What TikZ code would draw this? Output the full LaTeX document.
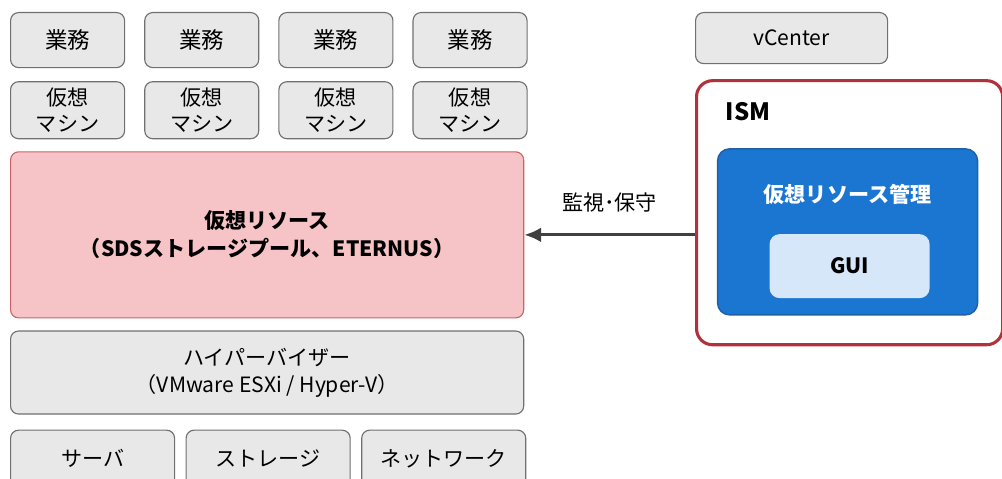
\documentclass[tikz,border=0pt]{standalone}
\usepackage{fontspec}
\setmainfont{Noto Sans CJK JP}
\usetikzlibrary{arrows.meta,positioning,calc}
\definecolor{boxgray}{HTML}{E8E8E8}
\definecolor{boxedge}{HTML}{707070}
\definecolor{respink}{HTML}{F6C4C6}
\definecolor{resedge}{HTML}{C8656B}
\definecolor{ismred}{HTML}{B0323C}
\definecolor{mgrblue}{HTML}{1B76D2}
\definecolor{mgredge}{HTML}{1F5FA6}
\definecolor{guiblue}{HTML}{D5E7F9}
\definecolor{arrowgray}{HTML}{404040}

\begin{document}
\begin{tikzpicture}[x=0.025cm, y=-0.025cm, >={Latex[length=0.42cm,width=0.37cm]}, node distance=0.475cm]
\tikzstyle{gray box}=[draw=boxedge, fill=boxgray, line width=0.8pt, rounded corners=0.2cm, align=center, inner sep=0pt, font=\fontsize{15}{19}\selectfont]
\tikzstyle{job}=[gray box, minimum width=2.85cm, minimum height=1.375cm, font=\fontsize{16}{19}\selectfont]
\tikzstyle{vm}=[gray box, minimum width=2.85cm, minimum height=1.425cm]
\tikzstyle{hw}=[gray box, minimum width=4.1cm, minimum height=1.425cm]
\useasboundingbox (0,0) rectangle (1002,479);

% guest layer
\node[job, anchor=north west] (job1) at (10,12) {業務};
\node[job]    (job2)[right=of job1]   {業務};
\node[job]    (job3)[right=of job2]   {業務};
\node[job]    (job4)[right=of job3]   {業務};
\node[vm]     (vm1)[below=0.325cm of job1]   {仮想\\マシン};
\node[vm]     (vm2)[below=0.325cm of job2]   {仮想\\マシン};
\node[vm]     (vm3)[below=0.325cm of job3]   {仮想\\マシン};
\node[vm]     (vm4)[below=0.325cm of job4]   {仮想\\マシン};

% resources and hypervisor
\node[gray box, draw=resedge, fill=respink, minimum width=12.825cm, minimum height=4.15cm,
      font=\fontsize{15}{20}\selectfont\bfseries]
      (res)[below=0.3cm of vm1.south west, anchor=north west] {仮想リソース\\（SDSストレージプール、ETERNUS）};
\node[gray box, minimum width=12.825cm, minimum height=2.075cm]
      (hyp)[below=0.3cm of res.south west, anchor=north west] {ハイパーバイザー\\（VMware ESXi / Hyper-V）};

% hardware
\node[hw]     (srv)[below=0.375cm of hyp.south west, anchor=north west]  {サーバ};
\node[hw]     (sto)[right=0.26cm of srv]   {ストレージ};
\node[hw]     (net)[right=0.26cm of sto]   {ネットワーク};

% management side
\node[gray box, minimum width=4.8cm, minimum height=1.275cm, anchor=north west] (vc) at (695,12) {vCenter};
\node[draw=ismred, line width=2.2pt, rounded corners=0.4cm, minimum width=7.65cm, minimum height=6.6cm]
      (ism)[below=0.375cm of vc.south west, anchor=north west] {};
\node[anchor=west, font=\fontsize{17}{20}\selectfont\bfseries] (ismlabel) at ($(ism.north west)+(26,32)$) {ISM};
\node[draw=mgredge, fill=mgrblue, line width=1pt, rounded corners=0.3cm, minimum width=6.5cm, minimum height=4.15cm, anchor=north]
      (mgr) at ($(ism.north)+(-2,69)$) {};
\node[text=white, font=\fontsize{15}{19}\selectfont\bfseries] (mgrlabel) at ($(mgr.north)+(0,46)$) {仮想リソース管理};
\node[fill=guiblue, rounded corners=0.25cm, minimum width=4cm, minimum height=1.6cm, font=\fontsize{15}{19}\selectfont\bfseries]
      (gui) at ($(mgr.north)+(2,118)$) {GUI};

\draw[->, line width=2.2pt, draw=arrowgray] (ism.west |- res.east) -- (res.east)
      node[midway, above=0.42cm, font=\fontsize{15}{19}\selectfont] (watch) {監視･保守};
\end{tikzpicture}
\end{document}
